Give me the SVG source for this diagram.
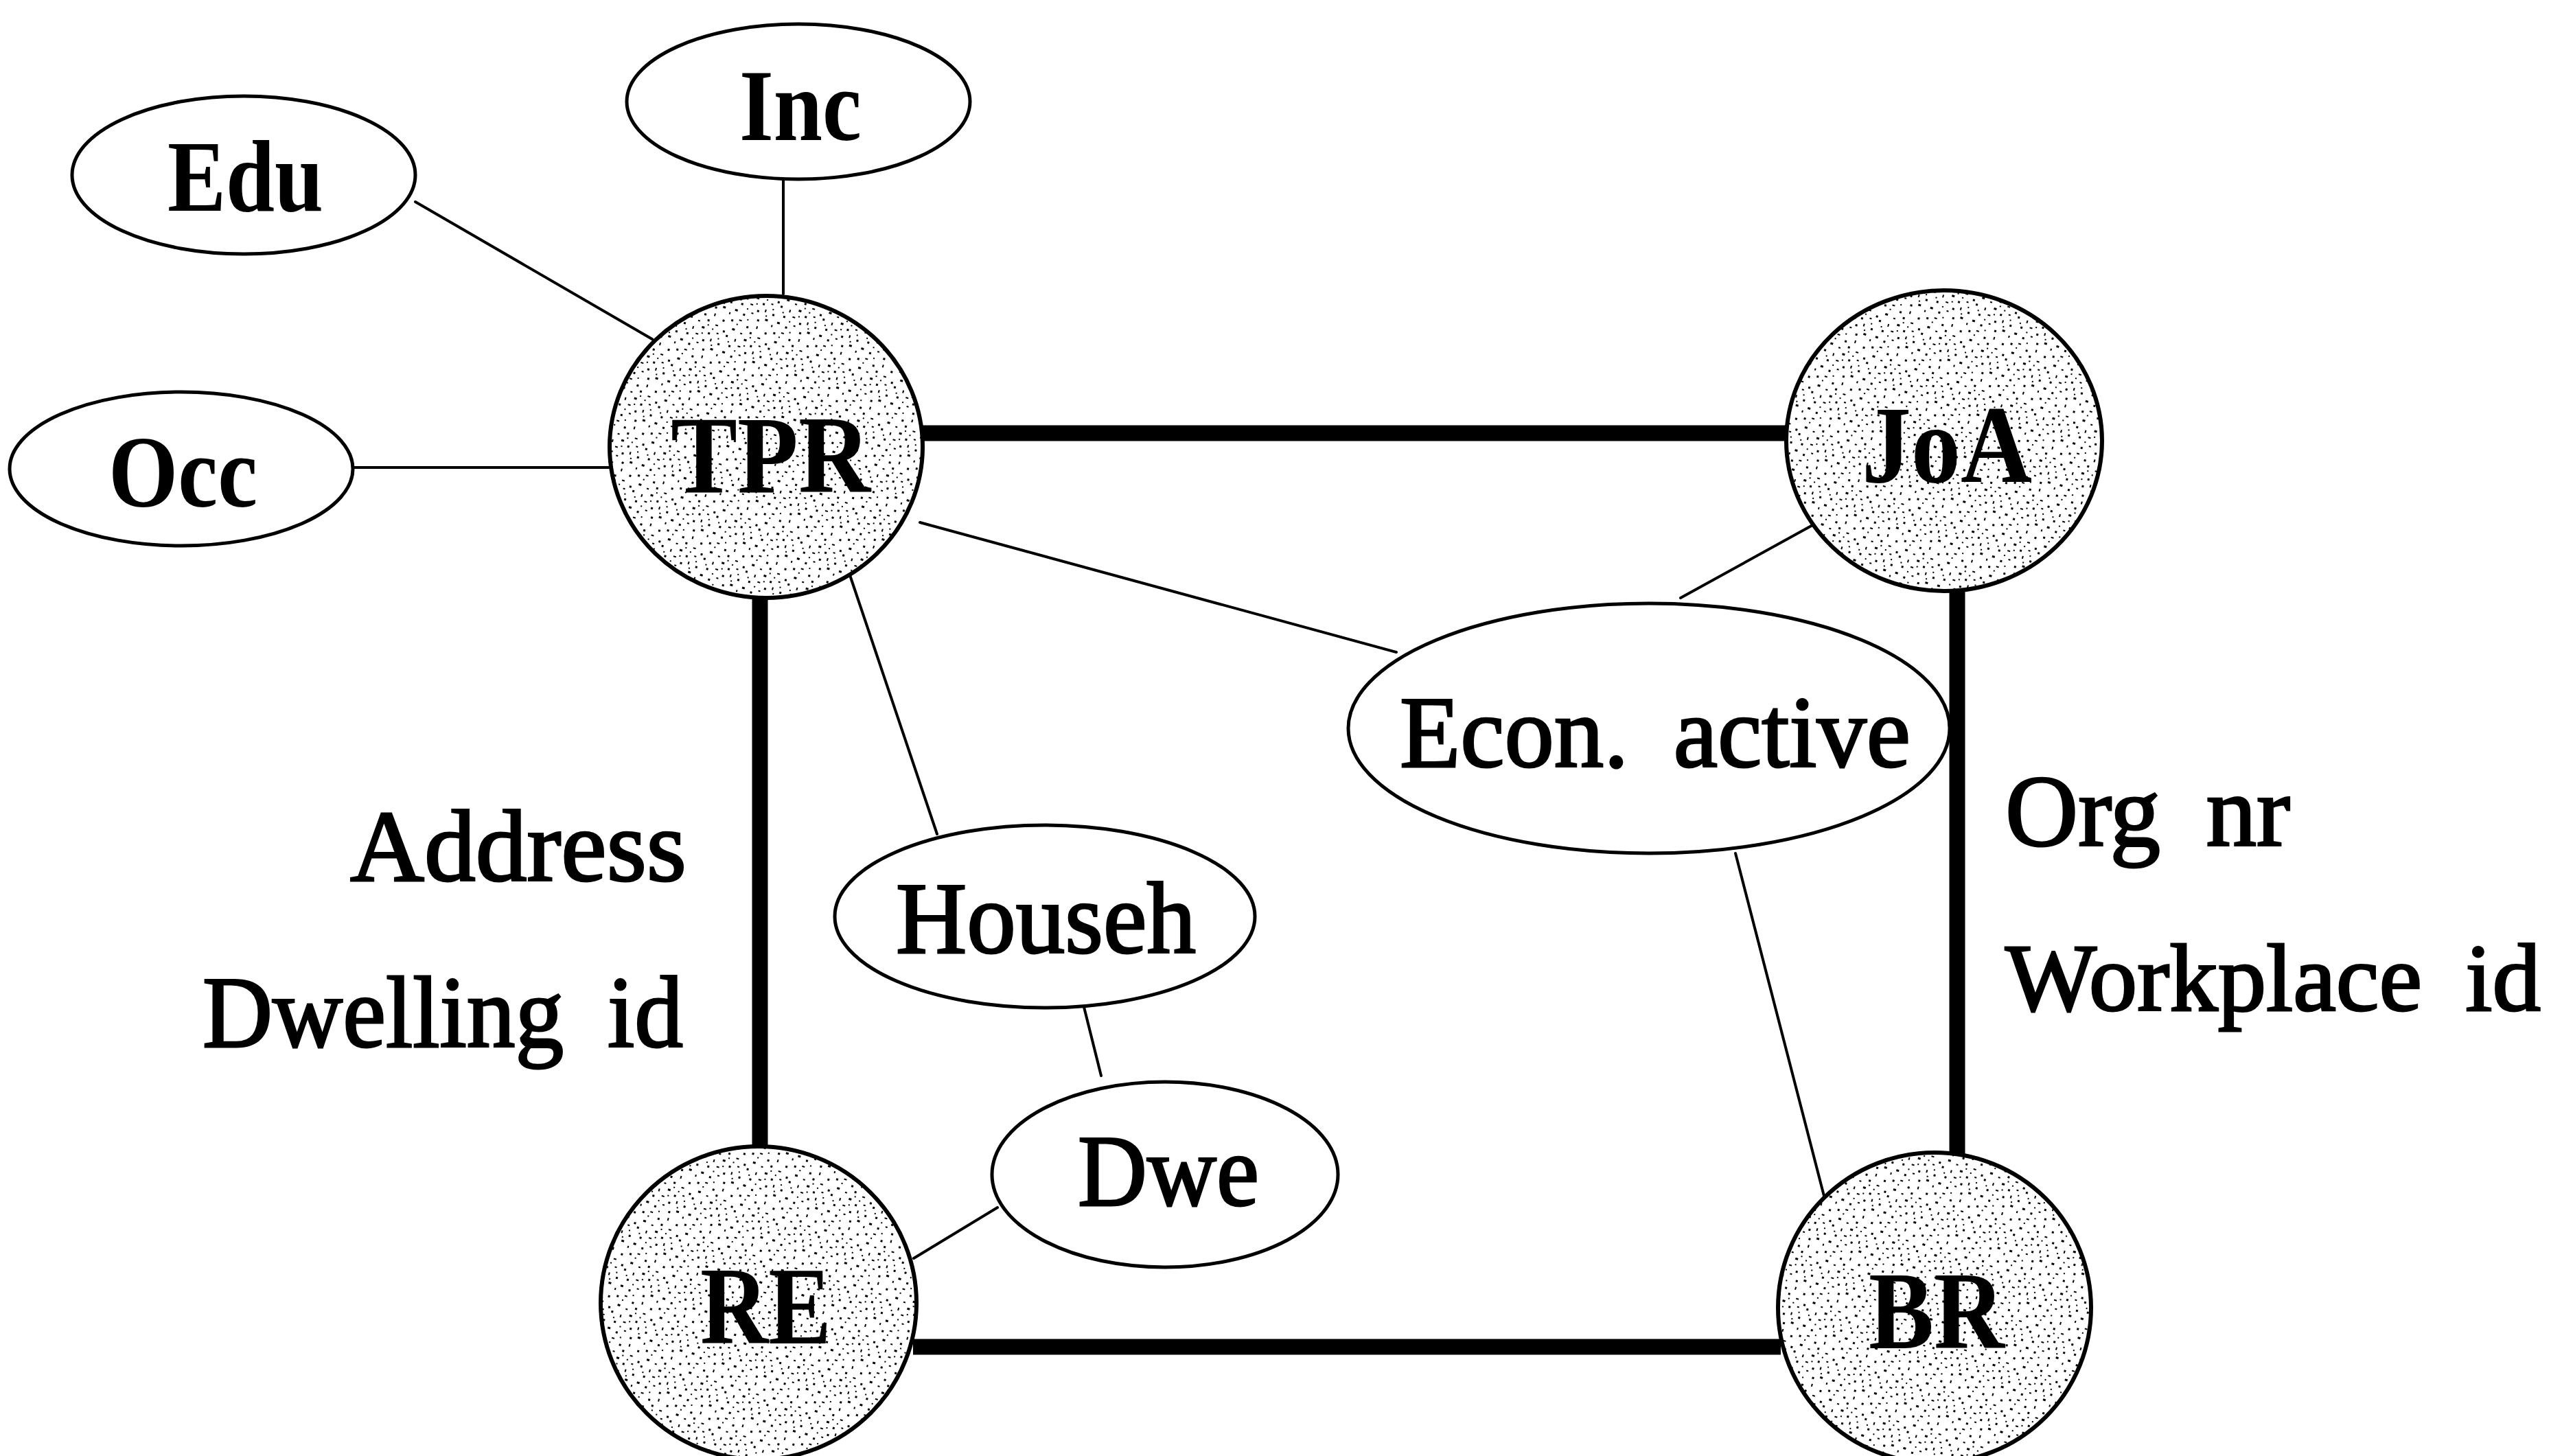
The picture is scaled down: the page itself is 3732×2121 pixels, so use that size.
<svg xmlns="http://www.w3.org/2000/svg" width="3732" height="2121" viewBox="0 0 3732 2121">
  <style>
    .bg { fill: #ffffff; }
    .reg { fill: url(#stipple); stroke: #000; stroke-width: 6; }
    .attr { fill: #ffffff; stroke: #000; stroke-width: 5; }
    .thin { stroke: #000; stroke-width: 4; fill: none; stroke-linecap: round; }
    .key { stroke: #000; stroke-width: 23; fill: none; stroke-linecap: butt; }
    .big { font-family: "Liberation Serif", "Times New Roman", serif; font-size: 162px; font-weight: bold; fill: #000; }
    .lbl { font-family: "Liberation Serif", "Times New Roman", serif; font-size: 148px; font-weight: bold; fill: #000; }
    .mid { font-family: "Liberation Serif", "Times New Roman", serif; font-size: 148px; font-weight: normal; fill: #000; stroke: #000; stroke-width: 3; word-spacing: 30px; }
    .tight { font-size: 140px; word-spacing: 28px; }
  </style>
  <defs>
    <!-- speckled grey used inside the register circles -->
    <pattern id="stipple" width="64" height="64" patternUnits="userSpaceOnUse" patternTransform="rotate(17)">
      <rect width="64" height="64" fill="#fff"/>
      <g fill="#000">
        <rect x="3" y="5" width="3" height="3"/><rect x="14" y="2" width="4" height="2"/>
        <rect x="27" y="8" width="3" height="3"/><rect x="41" y="4" width="2" height="4"/>
        <rect x="55" y="9" width="3" height="3"/><rect x="8" y="17" width="4" height="3"/>
        <rect x="21" y="20" width="3" height="2"/><rect x="34" y="15" width="3" height="3"/>
        <rect x="47" y="19" width="4" height="2"/><rect x="60" y="24" width="3" height="3"/>
        <rect x="2" y="29" width="3" height="3"/><rect x="16" y="31" width="2" height="4"/>
        <rect x="29" y="27" width="4" height="3"/><rect x="40" y="33" width="3" height="3"/>
        <rect x="52" y="30" width="3" height="2"/><rect x="10" y="42" width="3" height="3"/>
        <rect x="23" y="39" width="4" height="2"/><rect x="35" y="45" width="3" height="3"/>
        <rect x="46" y="41" width="2" height="4"/><rect x="58" y="44" width="3" height="3"/>
        <rect x="4" y="53" width="4" height="3"/><rect x="17" y="56" width="3" height="3"/>
        <rect x="28" y="51" width="3" height="2"/><rect x="39" y="58" width="3" height="3"/>
        <rect x="50" y="54" width="4" height="3"/><rect x="61" y="60" width="2" height="3"/>
        <rect x="12" y="9" width="2" height="2"/><rect x="31" y="36" width="2" height="2"/>
        <rect x="44" y="26" width="2" height="2"/><rect x="7" y="37" width="2" height="2"/>
        <rect x="25" y="62" width="2" height="2"/><rect x="56" y="37" width="2" height="2"/>
        <rect x="36" y="22" width="2" height="2"/><rect x="49" y="49" width="2" height="2"/>
        <rect x="20" y="47" width="2" height="2"/>
      </g>
    </pattern>
  </defs>

  <rect class="bg" x="0" y="0" width="3732" height="2121"/>

  <!-- links between registers and attributes -->
  <g id="connectors">
    <line class="key" x1="1340" y1="631" x2="2606" y2="631"/>
    <line class="key" x1="1107" y1="866" x2="1107" y2="1674"/>
    <line class="key" x1="2851" y1="858" x2="2851" y2="1682"/>
    <line class="key" x1="1330" y1="1962" x2="2594" y2="1962"/>
    <line class="thin" x1="605" y1="294" x2="950" y2="494"/>
    <line class="thin" x1="1141" y1="262" x2="1141" y2="428"/>
    <line class="thin" x1="515" y1="681" x2="888" y2="681"/>
    <line class="thin" x1="1340" y1="761" x2="2034" y2="950"/>
    <line class="thin" x1="2653" y1="758" x2="2448" y2="871"/>
    <line class="thin" x1="2528" y1="1243" x2="2658" y2="1746"/>
    <line class="thin" x1="1233" y1="823" x2="1365" y2="1215"/>
    <line class="thin" x1="1579" y1="1467" x2="1604" y2="1567"/>
    <line class="thin" x1="1453" y1="1759" x2="1331" y2="1833"/>
  </g>

  <g id="edu">
    <ellipse class="attr" cx="355" cy="255" rx="250" ry="115"/>
    <text class="lbl" x="244" y="307" textLength="227" lengthAdjust="spacingAndGlyphs">Edu</text>
  </g>
  <g id="inc">
    <ellipse class="attr" cx="1163" cy="148" rx="250" ry="113"/>
    <text class="lbl" x="1077" y="204" textLength="178" lengthAdjust="spacingAndGlyphs">Inc</text>
  </g>
  <g id="occ">
    <ellipse class="attr" cx="264" cy="683" rx="250" ry="112"/>
    <text class="lbl" x="158" y="738" textLength="217" lengthAdjust="spacingAndGlyphs">Occ</text>
  </g>

  <g id="tpr">
    <ellipse class="reg" cx="1116" cy="651" rx="228" ry="220"/>
    <text class="big" x="977" y="717" textLength="291" lengthAdjust="spacingAndGlyphs">TPR</text>
  </g>
  <g id="joa">
    <ellipse class="reg" cx="2832" cy="642" rx="230" ry="219"/>
    <text class="big" x="2712" y="702" textLength="248" lengthAdjust="spacingAndGlyphs">JoA</text>
  </g>
  <g id="re">
    <ellipse class="reg" cx="1105" cy="1898" rx="230" ry="228"/>
    <text class="big" x="1020" y="1957" textLength="191" lengthAdjust="spacingAndGlyphs">RE</text>
  </g>
  <g id="br">
    <ellipse class="reg" cx="2818" cy="1905" rx="228" ry="226"/>
    <text class="big" x="2722" y="1964" textLength="198" lengthAdjust="spacingAndGlyphs">BR</text>
  </g>

  <g id="econ-active">
    <ellipse class="attr" cx="2402" cy="1061" rx="438" ry="182"/>
    <text class="mid" x="2039" y="1117" textLength="744" lengthAdjust="spacingAndGlyphs">Econ. active</text>
  </g>
  <g id="househ">
    <ellipse class="attr" cx="1522" cy="1335" rx="306" ry="133"/>
    <text class="mid" x="1305" y="1388" textLength="437" lengthAdjust="spacingAndGlyphs">Househ</text>
  </g>
  <g id="dwe">
    <ellipse class="attr" cx="1697" cy="1711" rx="252" ry="135"/>
    <text class="mid" x="1570" y="1756" textLength="264" lengthAdjust="spacingAndGlyphs">Dwe</text>
  </g>

  <!-- key descriptions along the thick links -->
  <g id="tpr-re-keys">
    <text class="mid" x="510" y="1283" textLength="490" lengthAdjust="spacingAndGlyphs">Address</text>
    <text class="mid" x="295" y="1525" textLength="700" lengthAdjust="spacingAndGlyphs">Dwelling id</text>
  </g>
  <g id="joa-br-keys">
    <text class="mid" x="2921" y="1232" textLength="415" lengthAdjust="spacingAndGlyphs">Org nr</text>
    <text class="mid tight" x="2921" y="1472" textLength="780" lengthAdjust="spacingAndGlyphs">Workplace id</text>
  </g>
</svg>
